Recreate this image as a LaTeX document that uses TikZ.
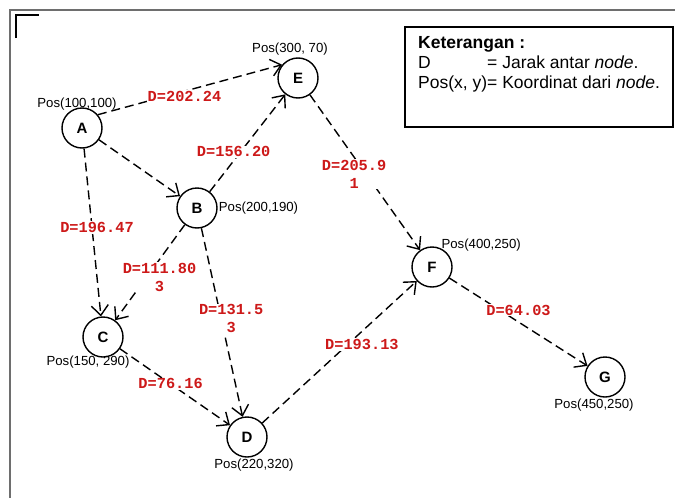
\documentclass[tikz,border=0pt]{standalone}
\usepackage{fontspec}
\setmainfont{Liberation Sans}
\newfontfamily\distfont{Liberation Mono}
\usetikzlibrary{arrows.meta}
\definecolor{distred}{RGB}{205,25,25}
\definecolor{framegray}{RGB}{110,110,110}

\tikzset{
  vertex/.style={circle,draw,line width=1.4pt,minimum size=40pt,inner sep=0pt,
                 font=\fontsize{15}{17}\selectfont\bfseries},
  link/.style={line width=1.4pt,dash pattern=on 9pt off 5pt,
               -{Straight Barb[length=10pt,width=17pt]}},
  dist/.style={fill=white,inner sep=1pt,text=distred,align=center,
               font=\distfont\fontsize{15.3}{18}\selectfont\bfseries},
  posinfo/.style={inner sep=1pt,font=\fontsize{13.2}{15}\selectfont}
}

\begin{document}
\begin{tikzpicture}[x=1pt,y=-1pt]
  \useasboundingbox (0,0) rectangle (675,498);
  % bingkai
  \draw[framegray,line width=2pt] (10,498) -- (10,10) -- (675,10);
  \draw[line width=1.4pt] (16,38) -- (16,15) -- (39,15);

  % node
  \node[vertex,label={[posinfo,label distance=-4pt,xshift=-5pt]above:Pos(100,100)}] (A) at (82,128) {A};
  \node[vertex,label={[posinfo,label distance=0pt]right:Pos(200,190)}] (B) at (197,208) {B};
  \node[vertex,label={[posinfo,label distance=-3pt,xshift=-15pt]below:Pos(150, 290)}] (C) at (103,337) {C};
  \node[vertex,label={[posinfo,label distance=0pt,xshift=7pt]below:Pos(220,320)}] (D) at (247,437) {D};
  \node[vertex,label={[posinfo,label distance=1pt,xshift=-8pt]above:Pos(300, 70)}] (E) at (298,78) {E};
  \node[vertex,label={[posinfo,anchor=south west,label distance=-4pt]60:Pos(400,250)}] (F) at (432,267) {F};
  \node[vertex,label={[posinfo,label distance=0pt,xshift=-11pt]below:Pos(450,250)}] (G) at (605,377) {G};

  % jarak
  \draw[link] (A.40) -- node[dist,pos=.47,yshift=-5pt] {D=202.24} (E.140);
  \draw[link] (A) -- (B);
  \draw[link] (A) -- node[dist,pos=.47,xshift=5pt] {D=196.47} (C);
  \draw[link] (B) -- node[dist,pos=.41,xshift=-7pt] {D=156.20} (E);
  \draw[link] (B) -- node[dist,pos=.55,xshift=13pt] {D=111.80\\3} (C);
  \draw[link] (B) -- node[dist,pos=.48,xshift=10pt] {D=131.5\\3} (D);
  \draw[link] (C) -- node[dist,pos=.46] {D=76.16} (D);
  \draw[link] (D) -- node[dist,pos=.645,yshift=-13pt] {D=193.13} (F);
  \draw[link] (E) -- node[dist,pos=.51,xshift=-12pt] {D=205.9\\1} (F);
  \draw[link] (F) -- node[dist,pos=.5,yshift=12pt] {D=64.03} (G);

  % keterangan
  \draw[line width=1.8pt] (405,27) rectangle (673,127);
  \node[anchor=north west,inner sep=0pt,font=\fontsize{17.5}{20}\selectfont] (legend) at (418,34)
    {\begin{tabular}{@{}l@{}l@{}}
     \multicolumn{2}{@{}l}{\textbf{Keterangan :}}\\
     D & = Jarak antar \textit{node}.\\
     Pos(x, y) & = Koordinat dari \textit{node}.
     \end{tabular}};
\end{tikzpicture}
\end{document}
